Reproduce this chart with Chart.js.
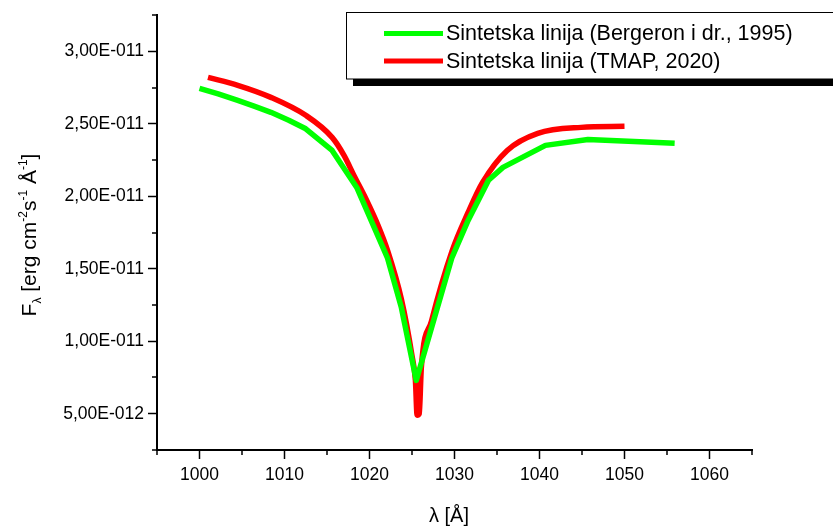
<!DOCTYPE html>
<html>
<head>
<meta charset="utf-8">
<script src="https://cdn.jsdelivr.net/npm/chart.js@4/dist/chart.umd.min.js"></script>
<style>
	body { margin: 0; background: #fff; }
	#c { display: block; }
</style>
</head>
<body>
<canvas id="c" width="833" height="530"></canvas>
<script>
// Bergeron i dr., 1995
const lambdaBergeron = [1000, 1002.2, 1004.5, 1006.5, 1008.4, 1010.5, 1012.5, 1015.6, 1018.5, 1022.1, 1023.75, 1025.5, 1027.3, 1029.7, 1031.6, 1034.0, 1035.7, 1040.7, 1045.7, 1055.9];
const fluxBergeron = [2.744e-11, 2.706e-11, 2.661e-11, 2.62e-11, 2.579e-11, 2.524e-11, 2.465e-11, 2.316e-11, 2.061e-11, 1.577e-11, 1.232e-11, 7.3e-12, 1.094e-11, 1.577e-11, 1.833e-11, 2.11e-11, 2.199e-11, 2.351e-11, 2.392e-11, 2.365e-11];

// TMAP, 2020
const lambdaTmap = [1001, 1004.5, 1008.4, 1012.5, 1015.6, 1017, 1018.2, 1019.6, 1021, 1022.1, 1023.75, 1025.0, 1025.4, 1025.6, 1025.85, 1026.1, 1027.3, 1029.7, 1031.6, 1033.3, 1036.2, 1039.8, 1044.9, 1050];
const fluxTmap = [2.82e-11, 2.765e-11, 2.682e-11, 2.558e-11, 2.406e-11, 2.282e-11, 2.14e-11, 1.98e-11, 1.80e-11, 1.63e-11, 1.29e-11, 9.0e-12, 7.3e-12, 4.9e-12, 5.0e-12, 8.2e-12, 1.14e-11, 1.62e-11, 1.888e-11, 2.095e-11, 2.316e-11, 2.434e-11, 2.475e-11, 2.482e-11];

const seriesLabels = ['Sintetska linija (Bergeron i dr., 1995)', 'Sintetska linija (TMAP, 2020)'];

const xTicks = [1000, 1010, 1020, 1030, 1040, 1050, 1060];
const xMinorTicks = [995, 1005, 1015, 1025, 1035, 1045, 1055, 1065];
const yTicks = [5e-12, 1e-11, 1.5e-11, 2e-11, 2.5e-11, 3e-11];
const yMinorTicks = [2.5e-12, 7.5e-12, 1.25e-11, 1.75e-11, 2.25e-11, 2.75e-11, 3.25e-11];

const FONT = '"Liberation Sans", Arial, sans-serif';

function toPoints(xs, ys){
	return xs.map((x, i) => ({x: x, y: ys[i]}));
}

function sciLabel(v){
	let e = Math.floor(Math.log10(v) + 1e-9);
	let m = v / Math.pow(10, e);
	let sign = e < 0 ? '-' : '+';
	return m.toFixed(2).replace('.', ',') + 'E' + sign + String(Math.abs(e)).padStart(3, '0');
}

const extras = {
	id: 'extras',
	afterDraw(chart){
		const ctx = chart.ctx;
		const xs = chart.scales.x, ys = chart.scales.y;
		const area = chart.chartArea;
		ctx.save();
		// minor ticks
		ctx.strokeStyle = '#000';
		ctx.lineWidth = 1.5;
		ctx.beginPath();
		xMinorTicks.forEach(v => {
			let px = Math.round(xs.getPixelForValue(v));
			ctx.moveTo(px, area.bottom);
			ctx.lineTo(px, area.bottom + 5);
		});
		yMinorTicks.forEach(v => {
			let py = Math.round(ys.getPixelForValue(v));
			ctx.moveTo(area.left - 5, py);
			ctx.lineTo(area.left, py);
		});
		ctx.stroke();

		// x title
		ctx.fillStyle = '#000';
		ctx.font = '20px ' + FONT;
		ctx.textAlign = 'center';
		ctx.textBaseline = 'middle';
		ctx.fillText('\u03bb [\u00c5]', 449, 516);

		// y title, rotated, with sub/superscripts
		ctx.save();
		ctx.translate(29, 235);
		ctx.rotate(-Math.PI / 2);
		const parts = [
			['F', 0, 21], ['\u03bb', 5, 12], [' [erg cm', 0, 21], ['-2', -9, 12],
			['s', 0, 21], ['-1', -9, 12], [' \u00c5', 0, 21], ['-1', -9, 12], [']', 0, 21]
		];
		let total = 0;
		parts.forEach(p => { ctx.font = p[2] + 'px ' + FONT; total += ctx.measureText(p[0]).width; });
		let cx = -total / 2;
		ctx.textAlign = 'left';
		ctx.textBaseline = 'alphabetic';
		parts.forEach(p => {
			ctx.font = p[2] + 'px ' + FONT;
			ctx.fillText(p[0], cx, 7 + p[1]);
			cx += ctx.measureText(p[0]).width;
		});
		ctx.restore();

		// legend box with shadow
		ctx.fillStyle = '#000';
		ctx.fillRect(353, 19, 490, 67);
		ctx.fillStyle = '#fff';
		ctx.fillRect(346, 12, 500, 67);
		ctx.strokeStyle = '#000';
		ctx.lineWidth = 1;
		ctx.strokeRect(346.5, 12.5, 500, 66.5);
		const rows = [33.5, 61];
		chart.data.datasets.forEach((ds, i) => {
			ctx.strokeStyle = ds.borderColor;
			ctx.lineWidth = 5;
			ctx.beginPath();
			ctx.moveTo(384, rows[i]);
			ctx.lineTo(443, rows[i]);
			ctx.stroke();
			ctx.fillStyle = '#000';
			ctx.font = '21.5px ' + FONT;
			ctx.textAlign = 'left';
			ctx.textBaseline = 'middle';
			ctx.fillText(ds.label, 446, rows[i] + 1);
		});
		ctx.restore();
	}
};

new Chart(document.getElementById('c'), {
	type: 'line',
	data: {
		datasets: [{
			label: seriesLabels[0],
			data: toPoints(lambdaBergeron, fluxBergeron),
			borderColor: '#00ff00',
			borderWidth: 5.5,
			pointRadius: 0,
			tension: 0,
			borderJoinStyle: 'round',
			fill: false
		}, {
			label: seriesLabels[1],
			data: toPoints(lambdaTmap, fluxTmap),
			borderColor: '#ff0000',
			borderWidth: 5.5,
			pointRadius: 0,
			cubicInterpolationMode: 'monotone',
			borderJoinStyle: 'round',
			fill: false
		}]
	},
	options: {
		responsive: false,
		animation: false,
		layout: { padding: { top: 15, right: 81, left: 0, bottom: 0 } },
		plugins: {
			legend: { display: false },
			tooltip: { enabled: false }
		},
		scales: {
			x: {
				type: 'linear',
				min: 995,
				max: 1065,
				afterBuildTicks: (s) => { s.ticks = xTicks.map(v => ({value: v})); },
				afterFit: (s) => { s.height = 80; },
				grid: { drawOnChartArea: false, tickLength: 9, tickColor: '#000', tickWidth: 1.5 },
				border: { color: '#000', width: 2 },
				ticks: { color: '#000', font: { family: FONT, size: 17.5 }, padding: 6, maxRotation: 0, callback: (v) => String(v) }
			},
			y: {
				type: 'linear',
				min: 2.5e-12,
				max: 3.25e-11,
				afterBuildTicks: (s) => { s.ticks = yTicks.map(v => ({value: v})); },
				afterFit: (s) => { s.width = 157; },
				grid: { drawOnChartArea: false, tickLength: 9, tickColor: '#000', tickWidth: 1.5 },
				border: { color: '#000', width: 2 },
				ticks: { color: '#000', font: { family: FONT, size: 17.5 }, padding: 4, callback: (v) => sciLabel(v) }
			}
		}
	},
	plugins: [extras]
});
</script>
</body>
</html>
